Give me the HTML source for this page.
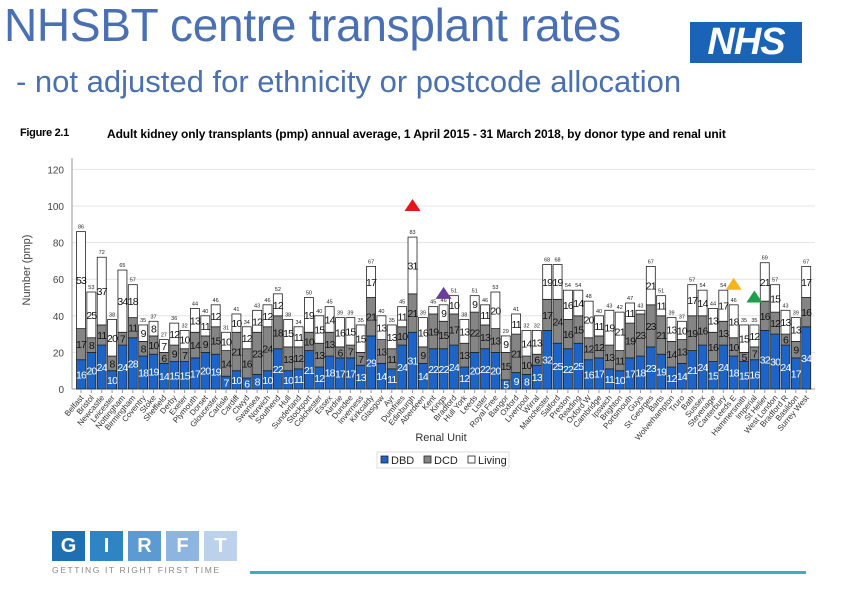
<!DOCTYPE html>
<html><head><meta charset="utf-8">
<style>
body{margin:0;width:842px;height:595px;background:#fff;overflow:hidden;font-family:"Liberation Sans",sans-serif;position:relative}
.t{position:absolute;white-space:nowrap}
</style></head>
<body>
<div class="t" style="left:4px;top:-2px;font-size:46px;color:#4a70b4;letter-spacing:-0.3px">NHSBT centre transplant rates</div>
<div class="t" style="left:16px;top:64px;font-size:31px;color:#4a70b4">- not adjusted for ethnicity or postcode allocation</div>
<div class="t" style="left:690px;top:22px;width:112px;height:41px;background:#1a64b8;color:#fff;font-weight:bold;font-style:italic;font-size:38px;line-height:41px;text-align:center;letter-spacing:-1px">NHS</div>
<div class="t" style="left:20px;top:127px;font-size:11px;font-weight:bold;letter-spacing:-0.3px">Figure 2.1</div>
<div class="t" style="left:107px;top:127px;font-size:12px;font-weight:bold;letter-spacing:-0.1px">Adult kidney only transplants (pmp) annual average, 1 April 2015 - 31 March 2018, by donor type and renal unit</div>

<svg id="chart" width="842" height="595" style="position:absolute;left:0;top:0" font-family="Liberation Sans, sans-serif"></svg>

<div class="t" style="left:52px;top:531px">
<span style="position:absolute;left:0;top:0;width:33px;height:30px;background:#1f6fb3;color:#fff;font-weight:bold;font-size:20px;text-align:center;line-height:30px">G</span>
<span style="position:absolute;left:38px;top:0;width:33px;height:30px;background:#2f84c4;color:#fff;font-weight:bold;font-size:20px;text-align:center;line-height:30px">I</span>
<span style="position:absolute;left:76px;top:0;width:33px;height:30px;background:#5c9ad1;color:#fff;font-weight:bold;font-size:20px;text-align:center;line-height:30px">R</span>
<span style="position:absolute;left:114px;top:0;width:33px;height:30px;background:#8db5e0;color:#fff;font-weight:bold;font-size:20px;text-align:center;line-height:30px">F</span>
<span style="position:absolute;left:152px;top:0;width:33px;height:30px;background:#bcd2ec;color:#fff;font-weight:bold;font-size:20px;text-align:center;line-height:30px">T</span>
<span style="position:absolute;left:0;top:34px;font-size:8.5px;color:#888;letter-spacing:1.6px">GETTING IT RIGHT FIRST TIME</span>
</div>
<div class="t" style="left:250px;top:571px;width:556px;height:3px;background:#3aaec6"></div>

<script>
const units = ["Belfast","Bristol","Newcastle","Leicester","Nottingham","Birmingham","Coventry","Stoke","Sheffield","Derby","Exeter","Plymouth","Dorset","Gloucester","Carlisle","Cardiff","Clwyd","Swansea","Norwich","Southend","Hull","Sunderland","Stockport","Colchester","Essex","Airdrie","Dundee","Inverness","Kirkcaldy","Glasgow","Ayr","Dumfries","Edinburgh","Aberdeen","Kent","Kings","Bradford","Hull York","Leeds","Lister","Royal Free","Bangor","Oxford","Liverpool","Wirral","Manchester","Salford","Preston","Reading","Oxford W","Cambridge","Ipswich","Brighton","Portsmouth","Guys","St Georges","Barts","Wolverhampton","Truro","Bath","Sussex","Stevenage","Canterbury","Leeds E","Hammersmith","Imperial","St Helier","West London","Bradford R","Basildon","Surrey West"];
const dbd = [16,20,24,10,24,28,18,19,14,15,15,17,20,19,7,10,6,8,10,22,10,11,21,12,18,17,17,13,29,14,11,24,31,14,22,22,24,12,20,22,20,5,9,8,13,32,25,22,25,16,17,11,10,17,18,23,19,12,14,21,24,15,24,18,15,16,32,30,24,17,34];
const dcd = [17,8,11,8,7,11,8,10,6,9,7,14,9,15,14,21,16,23,24,18,13,12,10,13,13,6,7,7,21,13,11,10,21,9,19,15,17,13,22,13,13,15,21,10,6,17,24,16,15,12,12,13,11,19,23,23,21,14,13,19,16,16,13,10,5,7,16,12,6,9,16];
const living = [53,25,37,20,34,18,9,8,7,12,10,13,11,12,10,10,12,12,12,12,15,11,19,15,14,16,15,15,17,13,13,11,31,16,4,9,10,13,9,11,20,9,11,14,13,19,19,16,14,20,11,19,21,11,2,21,11,13,10,17,14,13,17,18,15,12,21,15,13,13,17];
const yTicks = [0,20,40,60,80,100,120];
const markers = [{i:32,v:100,c:"#e8141b"},{i:35,v:52,c:"#6a3d9a"},{i:63,v:57,c:"#f3b51b"},{i:65,v:50,c:"#1e9e4a"}];

const NS="http://www.w3.org/2000/svg";
const svg=document.getElementById('chart');
const X0=72,X1=815,Y0=389,PX=1.83;
const first=81,pitch=10.36,bw=9;
const y=v=>Y0-v*PX;
const x=i=>first+i*pitch;
function mk(tag,at,parent){const e=document.createElementNS(NS,tag);for(const k in at)e.setAttribute(k,at[k]);(parent||svg).appendChild(e);return e;}

yTicks.forEach(t=>{
  const g=mk('line',{x1:X0,x2:X1,y1:y(t),y2:y(t),stroke:t?'#e4e4e4':'#999','stroke-width':1});
  
  
  const tk=mk('text',{x:X0-8,y:y(t)+4,'font-size':10,'text-anchor':'end',fill:'#444'});
  tk.textContent=t;
  
  
});
const ax=mk('line',{x1:X0,x2:X0,y1:158,y2:Y0,stroke:'#999'});


const yt=mk('text',{x:30,y:270,'font-size':11,'text-anchor':'middle',fill:'#444',transform:'rotate(-90 30 270)'});
yt.textContent='Number (pmp)';



units.forEach((u,i)=>{
  const cx=x(i),l=cx-bw/2;
  const segs=[[dbd[i],0,'#1c64c8','#fff'],[dcd[i],dbd[i],'#858585','#111'],[living[i],dbd[i]+dcd[i],'#fff','#111']];
  segs.forEach((s,k)=>{
    const r=mk('rect',{x:l,y:y(s[1]+s[0]),width:bw,height:s[0]*PX,fill:s[2],stroke:'#222','stroke-width':0.8});
    
    
    if(s[0]>=5){
      const tx=mk('text',{x:cx,y:y(s[1]+s[0]/2)+4,'font-size':10.5,'text-anchor':'middle',fill:s[3],'letter-spacing':'-0.8'});
      tx.textContent=s[0];
      
      
    }
  });
  const tot=dbd[i]+dcd[i]+living[i];
  const tt=mk('text',{x:cx,y:y(tot)-3,'font-size':5.5,'text-anchor':'middle',fill:'#222'});
  tt.textContent=tot;
  
  
  const tick=mk('line',{x1:cx,x2:cx,y1:Y0,y2:Y0+4,stroke:'#999'});
  
  
  const lb=mk('text',{x:cx+3,y:Y0+9,'font-size':8,'text-anchor':'end',fill:'#333',transform:`rotate(-50 ${cx+3} ${Y0+9})`});
  lb.textContent=u;
  
  
});

markers.forEach(m=>{
  const cx=x(m.i),cy=y(m.v);
  const p=mk('polygon',{points:`${cx-8},${cy+5} ${cx+8},${cy+5} ${cx},${cy-7}`,fill:m.c});
  
  
});

const xt=mk('text',{x:441,y:441,'font-size':11,'text-anchor':'middle',fill:'#333'});
xt.textContent='Renal Unit';



const lg=mk('g',{});


mk('rect',{x:377,y:452,width:132,height:16,fill:'#fff',stroke:'#ddd'},lg);
[['DBD','#1c64c8',381],['DCD','#858585',424],['Living','#fff',468]].forEach(e=>{
  const s=mk('rect',{x:e[2],y:456,width:7,height:7,fill:e[1],stroke:'#222','stroke-width':0.8},lg);
  
  
  const t=mk('text',{x:e[2]+10,y:464,'font-size':11,fill:'#222'},lg);
  t.textContent=e[0];
  
  
});
</script>
</body></html>
